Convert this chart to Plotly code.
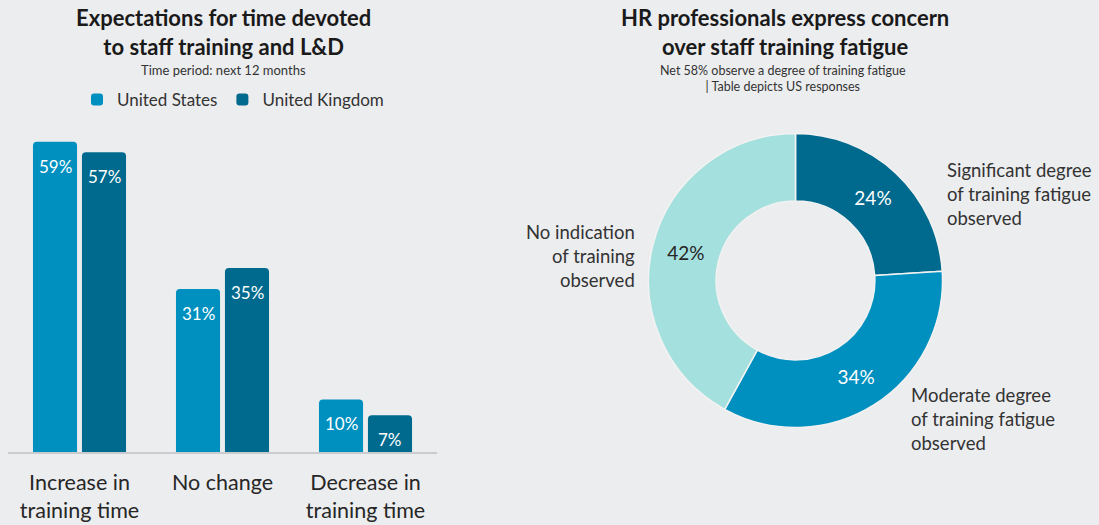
import plotly.graph_objects as go

# ---- data ----
categories = ["Increase in<br>training time", "No change", "Decrease in<br>training time"]
us_values = [59, 31, 10]
uk_values = [57, 35, 7]
series_names = ["United States", "United Kingdom"]

fatigue_labels = [
    "Significant degree<br>of training fatigue<br>observed",
    "Moderate degree<br>of training fatigue<br>observed",
    "No indication<br>of training<br>observed",
]
fatigue_values = [24, 34, 42]

left_title = "Expectations for time devoted<br>to staff training and L&D"
left_sub = "Time period: next 12 months"
right_title = "HR professionals express concern<br>over staff training fatigue"
right_sub = "Net 58% observe a degree of training fatigue<br>| Table depicts US responses"

# ---- styles ----
BG = "#ECEDEF"
US_C = "#0090BF"
UK_C = "#006A8E"
LIGHT = "#A4E0DE"
FONT = "Lato"
TXT = "#262626"
W, H = 1099, 525

fig = go.Figure()
for name, vals, col in [(series_names[0], us_values, US_C), (series_names[1], uk_values, UK_C)]:
    fig.add_trace(go.Bar(x=categories, y=vals, name=name, marker_color=col,
                         marker_line_width=0, hoverinfo="x+y+name"))

# bar value labels, through the axis scales
for vals, shift in [(us_values, -24.5), (uk_values, 24.5)]:
    for c, v in zip(categories, vals):
        fig.add_annotation(x=c, y=v, xref="x", yref="y", text=f"{v}%", showarrow=False,
                           xshift=shift, yshift=-12, yanchor="top",
                           font=dict(family=FONT, size=17, color="white"))

fig.add_trace(go.Pie(
    labels=[l.replace("<br>", " ") for l in fatigue_labels], values=fatigue_values,
    sort=False, direction="clockwise", rotation=0, hole=0.54,
    texttemplate="%{value}%", textposition="inside", insidetextorientation="horizontal",
    textfont=dict(family=FONT, size=19, color=["white", "white", TXT]),
    marker=dict(colors=[UK_C, US_C, LIGHT], line=dict(color="#F2F2F2", width=1.5)),
    domain=dict(x=[(795.5 - 147) / W, (795.5 + 147) / W], y=[1 - 427.5 / H, 1 - 133.5 / H]),
    showlegend=False,
))

label_pos = [(945, 194, "left"), (909, 419, "left"), (637, 256, "right")]
for lab, (px, py, al) in zip(fatigue_labels, label_pos):
    fig.add_annotation(x=px / W, y=1 - py / H, xref="paper", yref="paper", text=lab,
                       showarrow=False, align=al, xanchor=al, yanchor="middle",
                       font=dict(family=FONT, size=18.5, color="#333333"))

fig.add_annotation(x=223 / W, y=1 - 2 / H, xref="paper", yref="paper", text=f"<b>{left_title}</b>",
                   showarrow=False, xanchor="center", yanchor="top",
                   font=dict(family=FONT, size=22, color="#1A1A1A"))
fig.add_annotation(x=223 / W, y=1 - 70 / H, xref="paper", yref="paper", text=left_sub,
                   showarrow=False, xanchor="center", yanchor="middle",
                   font=dict(family=FONT, size=13, color="#333333"))
fig.add_annotation(x=784.5 / W, y=1 - 2 / H, xref="paper", yref="paper", text=f"<b>{right_title}</b>",
                   showarrow=False, xanchor="center", yanchor="top",
                   font=dict(family=FONT, size=22, color="#1A1A1A"))
fig.add_annotation(x=783 / W, y=1 - 79 / H, xref="paper", yref="paper", text=right_sub,
                   showarrow=False, xanchor="center", yanchor="middle",
                   font=dict(family=FONT, size=12.5, color="#333333"))

fig.update_layout(
    width=W, height=H,
    paper_bgcolor=BG, plot_bgcolor=BG,
    margin=dict(l=0, r=0, t=0, b=0),
    font=dict(family=FONT, color=TXT),
    barmode="group", bargap=0.315, bargroupgap=0.1, barcornerradius=4,
    xaxis=dict(domain=[8 / W, 437 / W], showline=True, linecolor="#C9CBCE", linewidth=2,
               ticks="", ticklabelstandoff=10,
               tickfont=dict(family=FONT, size=21.5, color=TXT), fixedrange=True),
    yaxis=dict(domain=[1 - 452 / H, 0.78], range=[0, 64], visible=False, showgrid=False, fixedrange=True),
    legend=dict(orientation="h", x=233 / W, y=1 - 100 / H, xanchor="center", yanchor="middle",
                font=dict(family=FONT, size=17, color="#333333"), bgcolor="rgba(0,0,0,0)"),
)

fig.write_html("out.html", config={"displayModeBar": False},
               post_script="document.body.style.margin='0';document.body.style.overflow='hidden';")
